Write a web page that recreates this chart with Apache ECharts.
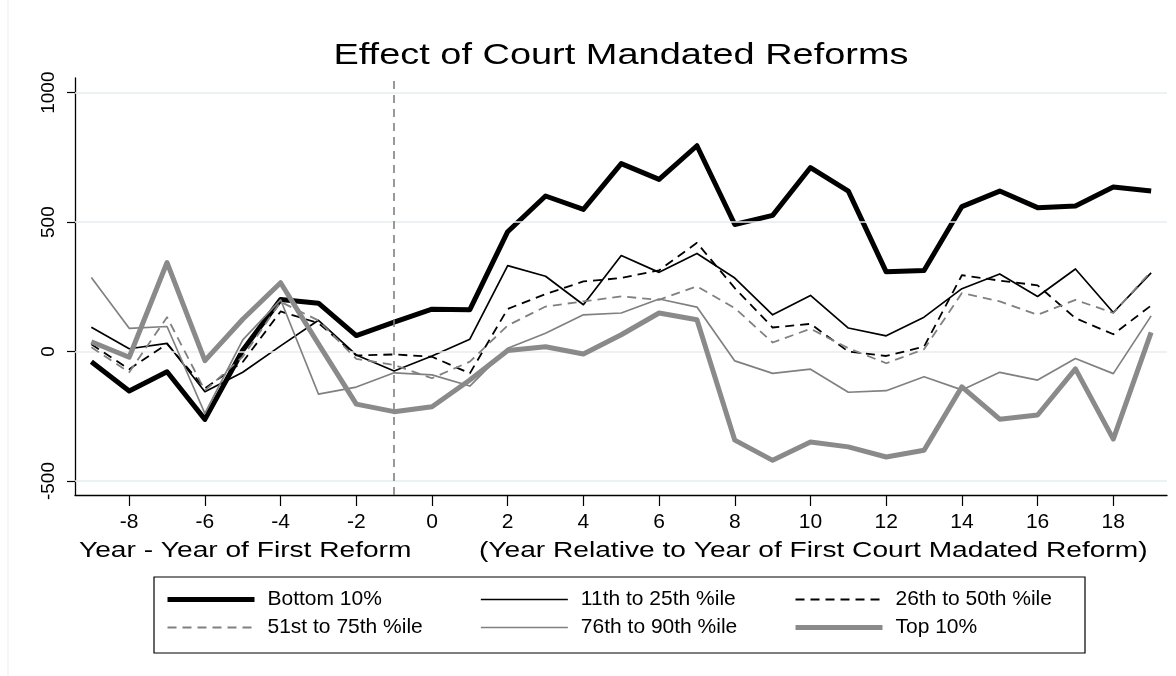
<!DOCTYPE html>
<html>
<head>
<meta charset="utf-8">
<script src="https://cdn.jsdelivr.net/npm/echarts@6/dist/echarts.min.js"></script>
<style>
html,body{margin:0;padding:0;background:#fff;}
#chart{width:1176px;height:676px;}
</style>
</head>
<body>
<div id="chart"></div>
<script>
// ---- data ----
const years = [-9,-8,-7,-6,-5,-4,-3,-2,-1,0,1,2,3,4,5,6,7,8,9,10,11,12,13,14,15,16,17,18,19];
const bottom10 = [-39,-152,-78,-262,5,201,187,62,114,164,162,463,601,549,726,665,795,491,526,711,620,308,313,560,620,556,562,636,620];
const p11to25 = [94,11,32,-155,-80,22,121,-13,-75,-17,48,332,291,181,371,306,379,284,142,217,91,61,133,243,300,213,319,151,304];
const p26to50 = [28,-68,30,-142,-40,155,110,-15,-11,-20,-84,165,222,271,284,314,420,245,93,107,0,-17,19,295,274,256,129,67,178];
const p51to75 = [17,-80,133,-150,-20,192,120,-28,-52,-103,-39,101,174,194,213,200,252,168,35,88,13,-45,9,226,194,142,200,149,310];
const p76to90 = [286,90,97,-239,45,200,-164,-137,-82,-90,-133,13,71,142,149,203,172,-36,-84,-68,-157,-151,-97,-148,-80,-110,-27,-85,138];
const top10 = [38,-22,344,-35,125,266,30,-203,-232,-213,-110,4,19,-9,65,149,123,-342,-420,-349,-368,-407,-381,-136,-261,-245,-67,-338,74];
const xTicks = [-8,-6,-4,-2,0,2,4,6,8,10,12,14,16,18];
const yTicks = [-500,0,500,1000];
const refYear = -1;
const seriesNames = ['Bottom 10%','11th to 25th %ile','26th to 50th %ile','51st to 75th %ile','76th to 90th %ile','Top 10%'];
const titleText = 'Effect of Court Mandated Reforms';
const xTitleLeft = 'Year - Year of First Reform';
const xTitleRight = '(Year Relative to Year of First Court Madated Reform)';

// ---- styles ----
const FONT = '"Liberation Sans", Arial, Helvetica, sans-serif';
const styles = [
  {color:'#000000', width:5,   type:'solid'},
  {color:'#000000', width:1.7, type:'solid'},
  {color:'#000000', width:1.8, type:[9,6]},
  {color:'#808080', width:1.8, type:[9,6]},
  {color:'#808080', width:1.7, type:'solid'},
  {color:'#8a8a8a', width:5,   type:'solid'}
];
const values = [bottom10,p11to25,p26to50,p51to75,p76to90,top10];

const chart = echarts.init(document.getElementById('chart'), null, {renderer:'canvas'});

const series = values.map((vals,i)=>({
  name: seriesNames[i],
  type: 'line',
  data: years.map((y,j)=>[y, vals[j]]),
  symbol: 'none',
  showSymbol: false,
  silent: true,
  z: 3 + i,
  itemStyle: {color: styles[i].color},
  lineStyle: {color: styles[i].color, width: styles[i].width, type: styles[i].type, join:'round', cap:'butt'}
}));

// gridlines & reference line (drawn through axis scales)
series.unshift({
  name: 'grid',
  type: 'line',
  data: [],
  silent: true,
  z: 1,
  markLine: {
    silent: true,
    symbol: 'none',
    animation: false,
    label: {show:false},
    lineStyle: {color:'#e6eef1', width:1.6, type:'solid'},
    data: yTicks.map(v=>({yAxis:v}))
  }
});
series.push({
  name: 'ref',
  type: 'line',
  data: [],
  silent: true,
  z: 2,
  markLine: {
    silent: true,
    symbol: 'none',
    animation: false,
    label: {show:false},
    lineStyle: {color:'#808080', width:1.6, type:[8,6]},
    data: [{xAxis: refYear}]
  }
});

function legendItem(i){
  return {
    name: seriesNames[i],
    itemStyle: {color:'rgba(0,0,0,0)', borderWidth:0, opacity:0},
    lineStyle: {width: styles[i].width, color: styles[i].color, type: styles[i].type, opacity:1}
  };
}

const legendCommon = {
  orient: 'vertical',
  top: 589,
  padding: 0,
  itemWidth: 87,
  itemHeight: 14,
  itemGap: 7,
  selectedMode: false,
  textStyle: {fontFamily: FONT, fontSize: 21, color:'#000', lineHeight: 21, padding:[0,0,0,8]}
};

const option = {
  animation: false,
  backgroundColor: '#ffffff',
  grid: {left: 75, top: 78, right: 9, bottom: 181, containLabel: false},
  xAxis: {
    type: 'value',
    min: -9.432,
    max: 19.419,
    axisLine: {show:true, onZero:false, lineStyle:{color:'#000', width:1.3}},
    axisTick: {show:true, length:11, customValues: xTicks, lineStyle:{color:'#000', width:1.2}},
    axisLabel: {show:true, customValues: xTicks, margin: 17, fontFamily: FONT, fontSize: 21, color:'#000', formatter: v => String(v)},
    splitLine: {show:false}
  },
  yAxis: {
    type: 'value',
    min: -553.9,
    max: 1056.7,
    axisLine: {show:true, onZero:false, lineStyle:{color:'#000', width:1.3}},
    axisTick: {show:true, length:8, customValues: yTicks, lineStyle:{color:'#000', width:1.2}},
    axisLabel: {show:true, customValues: yTicks, rotate: 90, margin: 17, fontFamily: FONT, fontSize: 19, color:'#000', formatter: v => String(v)},
    splitLine: {show:false}
  },
  legend: [
    Object.assign({left:165, data:[legendItem(0), legendItem(3)]}, legendCommon),
    Object.assign({left:480, data:[legendItem(1), legendItem(4)]}, legendCommon),
    Object.assign({left:793, data:[legendItem(2), legendItem(5)]}, legendCommon)
  ],
  graphic: [
    {type:'rect', z:-1, silent:true, shape:{x:154, y:577, width:931, height:76}, style:{fill:'none', stroke:'#000', lineWidth:1.2}},
    {type:'line', silent:true, shape:{x1:8, y1:0, x2:8, y2:676}, style:{stroke:'#eef3f5', lineWidth:1.5}},
    {type:'group', x:621, y:56, scaleX:1.265, silent:true, children:[
      {type:'text', x:0, y:0, style:{text:titleText, font:'30px ' + FONT, fill:'#000', align:'center', verticalAlign:'middle'}}
    ]},
    {type:'group', x:79, y:551, scaleX:1.25, silent:true, children:[
      {type:'text', x:0, y:0, style:{text:xTitleLeft, font:'22.5px ' + FONT, fill:'#000', align:'left', verticalAlign:'middle'}}
    ]},
    {type:'group', x:479, y:551, scaleX:1.25, silent:true, children:[
      {type:'text', x:0, y:0, style:{text:xTitleRight, font:'22.5px ' + FONT, fill:'#000', align:'left', verticalAlign:'middle'}}
    ]}
  ],
  series: series
};
chart.setOption(option);
</script>
</body>
</html>
